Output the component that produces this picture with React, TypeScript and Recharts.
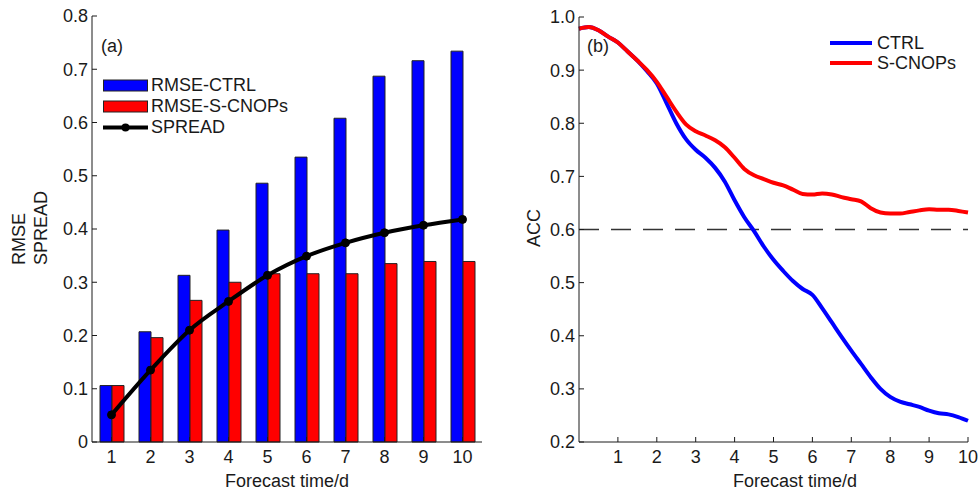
import React from 'react';
import { ComposedChart, LineChart, Bar, Line, XAxis, YAxis, ReferenceLine, Legend } from 'recharts';

// panel (a): RMSE and spread per forecast day
const days = [1, 2, 3, 4, 5, 6, 7, 8, 9, 10];
const rmseCtrl = [0.106, 0.207, 0.313, 0.398, 0.486, 0.535, 0.608, 0.687, 0.716, 0.734];
const rmseScnops = [0.106, 0.196, 0.266, 0.300, 0.316, 0.316, 0.316, 0.335, 0.339, 0.339];
const spread = [0.051, 0.135, 0.210, 0.264, 0.313, 0.349, 0.374, 0.393, 0.407, 0.418];
const rmseTicks = [0, 0.1, 0.2, 0.3, 0.4, 0.5, 0.6, 0.7, 0.8];

// panel (b): ACC curves
const accTime = [
  0, 0.25, 0.5, 0.75, 1, 1.25, 1.5, 1.75, 2, 2.25, 2.5, 2.75, 3, 3.25, 3.5, 3.75, 4, 4.25, 4.5, 4.75, 5,
  5.25, 5.5, 5.75, 6, 6.25, 6.5, 6.75, 7, 7.25, 7.5, 7.75, 8, 8.25, 8.5, 8.75, 9, 9.25, 9.5, 9.75, 10,
];
const accCtrl = [
  0.978, 0.981, 0.975, 0.963, 0.952, 0.935, 0.918, 0.898, 0.875, 0.838, 0.800, 0.770, 0.750, 0.735,
  0.716, 0.690, 0.655, 0.623, 0.597, 0.568, 0.543, 0.522, 0.503, 0.488, 0.477, 0.452, 0.425, 0.398,
  0.372, 0.347, 0.322, 0.300, 0.285, 0.276, 0.271, 0.266, 0.259, 0.254, 0.252, 0.247, 0.240,
];
const accScnops = [
  0.978, 0.981, 0.975, 0.963, 0.952, 0.935, 0.918, 0.900, 0.878, 0.850, 0.822, 0.798, 0.785, 0.777,
  0.768, 0.755, 0.735, 0.714, 0.702, 0.695, 0.688, 0.683, 0.675, 0.667, 0.666, 0.668, 0.666, 0.661,
  0.657, 0.653, 0.640, 0.632, 0.630, 0.630, 0.633, 0.636, 0.638, 0.637, 0.637, 0.635, 0.632,
];
const accTicks = [0.2, 0.3, 0.4, 0.5, 0.6, 0.7, 0.8, 0.9, 1.0];
const accThreshold = 0.6;

const barData = days.map((d, i) => ({ day: d, ctrl: rmseCtrl[i], scnops: rmseScnops[i], spread: spread[i] }));
const accData = accTime.map((t, i) => ({ t, ctrl: accCtrl[i], scnops: accScnops[i] }));

const BLUE = '#0000ff';
const RED = '#ff0000';
const INK = '#1a1a1a';
const FONT = 18;

const tickStyle = { fontSize: FONT, fill: INK };
const noLabel = () => '';

const BarLegend = () => (
  <div style={{ fontSize: FONT, lineHeight: '21px', color: INK }}>
    {[
      { name: 'RMSE-CTRL', kind: 'bar', color: BLUE },
      { name: 'RMSE-S-CNOPs', kind: 'bar', color: RED },
      { name: 'SPREAD', kind: 'line', color: '#000' },
    ].map((it) => (
      <div key={it.name} style={{ display: 'flex', alignItems: 'center', height: 21 }}>
        <svg width={48} height={21}>
          {it.kind === 'bar' ? (
            <rect x={0.5} y={5} width={44} height={11} fill={it.color} stroke="#222" strokeWidth={1} />
          ) : (
            <g>
              <line x1={0} x2={45} y1={10.5} y2={10.5} stroke="#000" strokeWidth={4} />
              <circle cx={22.5} cy={10.5} r={4} fill="#000" />
            </g>
          )}
        </svg>
        <span>{it.name}</span>
      </div>
    ))}
  </div>
);

const AccLegend = () => (
  <div style={{ fontSize: FONT, lineHeight: '20px', color: INK }}>
    {[
      { name: 'CTRL', color: BLUE },
      { name: 'S-CNOPs', color: RED },
    ].map((it) => (
      <div key={it.name} style={{ display: 'flex', alignItems: 'center', height: 20 }}>
        <svg width={47} height={20}>
          <line x1={0} x2={42} y1={10} y2={10} stroke={it.color} strokeWidth={4} />
        </svg>
        <span>{it.name}</span>
      </div>
    ))}
  </div>
);

const App: React.FC = () => {
  return (
    <div
      style={{
        position: 'absolute',
        left: 0,
        top: 0,
        width: 980,
        height: 493,
        background: '#fff',
        fontFamily: '"Liberation Sans", Arial, Helvetica, sans-serif',
      }}
    >
      <div style={{ position: 'absolute', left: 0, top: 0 }}>
        <ComposedChart
          width={490}
          height={493}
          data={barData}
          margin={{ top: 16, right: 8, bottom: 21, left: 32 }}
          barCategoryGap={8}
          barGap={0}
        >
          <XAxis dataKey="day" height={30} interval={0} tickSize={-5} tickMargin={13} tick={tickStyle} stroke={INK} />
          <XAxis xAxisId="top" dataKey="day" orientation="top" height={0} interval={0} tickSize={-5} tickFormatter={noLabel} stroke={INK} />
          <YAxis
            domain={[0, 0.8]}
            ticks={rmseTicks}
            width={60}
            tickSize={-5}
            tickMargin={9}
            tick={tickStyle}
            stroke={INK}
            tickFormatter={(v: number) => (v === 0 ? '0' : v.toFixed(1))}
          />
          <YAxis yAxisId="right" orientation="right" domain={[0, 0.8]} ticks={rmseTicks} width={0} tickSize={-5} tickFormatter={noLabel} stroke={INK} />
          <Bar dataKey="ctrl" fill={BLUE} stroke="#222" strokeWidth={1} isAnimationActive={false} />
          <Bar dataKey="scnops" fill={RED} stroke="#222" strokeWidth={1} isAnimationActive={false} />
          <Line
            type="monotone"
            dataKey="spread"
            stroke="#000"
            strokeWidth={4}
            dot={{ r: 4, fill: '#000', stroke: '#000', strokeWidth: 1 }}
            isAnimationActive={false}
          />
          <Legend
            layout="vertical"
            align="center"
            verticalAlign="middle"
            content={() => <BarLegend />}
            wrapperStyle={{ position: 'absolute', left: 103, top: 75, width: 'auto' }}
          />
        </ComposedChart>
      </div>

      <div style={{ position: 'absolute', left: 490, top: 0 }}>
        <LineChart width={490} height={493} data={accData} margin={{ top: 17, right: 12, bottom: 21, left: 29 }}>
          <XAxis
            dataKey="t"
            type="number"
            domain={[0, 10]}
            ticks={days}
            interval={0}
            height={30}
            tickSize={-5}
            tickMargin={13}
            tick={tickStyle}
            stroke={INK}
          />
          <XAxis xAxisId="top" dataKey="t" type="number" orientation="top" domain={[0, 10]} ticks={days} height={0} tickSize={-5} tickFormatter={noLabel} stroke={INK} />
          <YAxis
            domain={[0.2, 1.0]}
            ticks={accTicks}
            width={60}
            tickSize={-5}
            tickMargin={9}
            tick={tickStyle}
            stroke={INK}
            tickFormatter={(v: number) => v.toFixed(1)}
          />
          <YAxis yAxisId="right" orientation="right" domain={[0.2, 1.0]} ticks={accTicks} width={0} tickSize={-5} tickFormatter={noLabel} stroke={INK} />
          <ReferenceLine y={accThreshold} stroke="#333" strokeWidth={1.5} strokeDasharray="20 12" />
          <Line type="monotone" dataKey="ctrl" stroke={BLUE} strokeWidth={4} dot={false} isAnimationActive={false} />
          <Line type="monotone" dataKey="scnops" stroke={RED} strokeWidth={4} dot={false} isAnimationActive={false} />
          <Legend
            layout="vertical"
            align="center"
            verticalAlign="middle"
            content={() => <AccLegend />}
            wrapperStyle={{ position: 'absolute', left: 340, top: 33, width: 'auto' }}
          />
        </LineChart>
      </div>

      {/* axis titles and panel letters */}
      <svg width={980} height={493} style={{ position: 'absolute', left: 0, top: 0, pointerEvents: 'none' }}>
        <g fontSize={FONT} fill={INK}>
          <text x={101} y={52}>(a)</text>
          <text x={587} y={52}>(b)</text>
          <text x={287} y={487} textAnchor="middle">Forecast time/d</text>
          <text x={795} y={487} textAnchor="middle">Forecast time/d</text>
          <text transform="translate(25,265) rotate(-90)">RMSE</text>
          <text transform="translate(47,265) rotate(-90)">SPREAD</text>
          <text transform="translate(540,228) rotate(-90)" textAnchor="middle">ACC</text>
        </g>
      </svg>
    </div>
  );
};

export default App;
